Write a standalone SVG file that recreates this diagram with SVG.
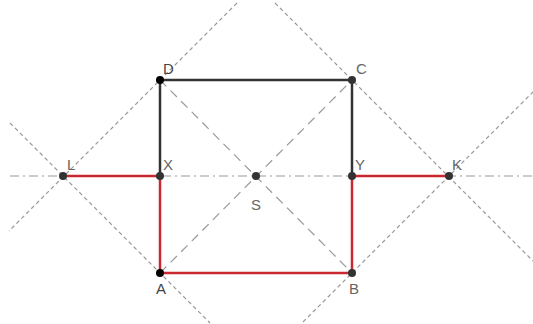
<svg xmlns="http://www.w3.org/2000/svg" width="533" height="324" viewBox="0 0 533 324">
<style>
.aux{stroke:#999;stroke-width:1.2;fill:none;stroke-dasharray:4 3}
.diag{stroke:#999;stroke-width:1.2;fill:none;stroke-dasharray:9 6}
.axis{stroke:#999;stroke-width:1.2;fill:none;stroke-dasharray:9 4 2 4}
.blk{stroke:#333;stroke-width:2.5;fill:none}
.red{stroke:#c8282e;stroke-width:2.5;fill:none}
.pt{fill:#333}
.lbl{font-family:"Liberation Sans",Arial,sans-serif;font-size:15px;fill:#666}
</style>
<rect width="533" height="324" fill="#fff"/>
<g id="connectors">
<line class="aux" x1="237" y1="3" x2="9" y2="231"/>
<line class="aux" x1="10" y1="123" x2="210" y2="323"/>
<line class="aux" x1="275" y1="3" x2="533" y2="261"/>
<line class="aux" x1="303" y1="322" x2="533" y2="92"/>
<line class="diag" x1="160" y1="80" x2="352" y2="273"/>
<line class="diag" x1="160" y1="273" x2="352" y2="80"/>
<line class="axis" x1="10" y1="176" x2="533" y2="176"/>
<line class="blk" x1="160" y1="80" x2="352" y2="80"/>
<line class="blk" x1="160" y1="80" x2="160" y2="176"/>
<line class="blk" x1="352" y1="80" x2="352" y2="176"/>
<line class="red" x1="63" y1="176" x2="160" y2="176"/>
<line class="red" x1="160" y1="176" x2="160" y2="273"/>
<line class="red" x1="160" y1="273" x2="352" y2="273"/>
<line class="red" x1="352" y1="273" x2="352" y2="176"/>
<line class="red" x1="352" y1="176" x2="449" y2="176"/>
</g>
<g id="D"><circle cx="160" cy="80" r="4" fill="#000"/><text class="lbl" x="163" y="74" style="fill:#444">D</text></g>
<g id="C"><circle class="pt" cx="352" cy="80" r="4"/><text class="lbl" x="356" y="74">C</text></g>
<g id="A"><circle cx="160" cy="273" r="4" fill="#000"/><text class="lbl" x="156" y="294" style="fill:#444">A</text></g>
<g id="B"><circle class="pt" cx="352" cy="273" r="4"/><text class="lbl" x="349" y="294">B</text></g>
<g id="L"><circle class="pt" cx="63" cy="176" r="4"/><text class="lbl" x="67" y="170">L</text></g>
<g id="X"><circle class="pt" cx="160" cy="176" r="4"/><text class="lbl" x="163" y="170">X</text></g>
<g id="S"><circle class="pt" cx="256" cy="176" r="4"/><text class="lbl" x="251" y="210">S</text></g>
<g id="Y"><circle class="pt" cx="352" cy="176" r="4"/><text class="lbl" x="355" y="170">Y</text></g>
<g id="K"><circle class="pt" cx="449" cy="176" r="4"/><text class="lbl" x="452" y="170">K</text></g>
</svg>
